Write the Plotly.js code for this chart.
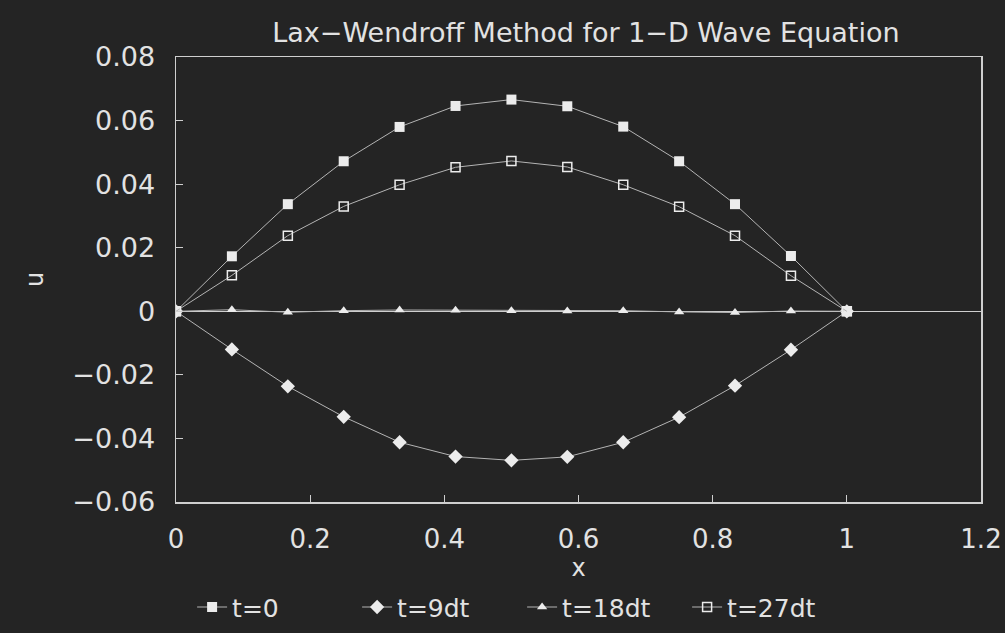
<!DOCTYPE html>
<html><head><meta charset="utf-8">
<script src="https://cdn.plot.ly/plotly-3.0.1.min.js"></script>
<style>html,body{margin:0;padding:0;background:#242424;}#chart{width:1005px;height:633px;}</style>
</head><body><div id="chart"></div>
<script>
const xValues = [0, 0.0833, 0.1667, 0.25, 0.3333, 0.4167, 0.5, 0.5833, 0.6667, 0.75, 0.8333, 0.9167, 1.0];
const seriesNames = ["t=0", "t=9dt", "t=18dt", "t=27dt"];
const uT0   = [0, 0.0173, 0.0337, 0.0472, 0.0580, 0.0646, 0.0666, 0.0645, 0.0581, 0.0472, 0.0337, 0.0174, 0];
const uT9   = [0, -0.0120, -0.0236, -0.0332, -0.0412, -0.0457, -0.0469, -0.0458, -0.0412, -0.0333, -0.0234, -0.0121, 0];
const uT18  = [0, 0.0005, -0.0003, 0.0002, 0.0004, 0.0003, 0.0002, 0.0001, 0.0002, -0.0002, -0.0004, 0.0001, 0];
const uT27  = [0, 0.0113, 0.0238, 0.0330, 0.0398, 0.0453, 0.0473, 0.0454, 0.0398, 0.0329, 0.0238, 0.0112, 0];
const xTicks = [0, 0.2, 0.4, 0.6, 0.8, 1, 1.2];
const xTickText = ["0", "0.2", "0.4", "0.6", "0.8", "1", "1.2"];
const yTicks = [-0.06, -0.04, -0.02, 0, 0.02, 0.04, 0.06, 0.08];
const yTickText = ["\u22120.06", "\u22120.04", "\u22120.02", "0", "0.02", "0.04", "0.06", "0.08"];

const fg = "#e2e2e2";
const lineCol = "#b4b4b4";
const font = "DejaVu Sans, sans-serif";

function tr(y, name, sym, size, extra) {
  return Object.assign({
    x: xValues, y: y, name: name, type: "scatter", mode: "lines+markers",
    line: {color: lineCol, width: 1},
    marker: {symbol: sym, size: size, color: "#ececec"}
  }, extra || {});
}
const data = [
  tr(uT0, seriesNames[0], "square", 10),
  tr(uT9, seriesNames[1], "diamond", 11),
  tr(uT18, seriesNames[2], "triangle-up", 9),
  tr(uT27, seriesNames[3], "square-open", 9, {marker: {symbol: "square-open", size: 9, color: "#ececec", line: {width: 1.5}}})
];
const layout = {
  width: 1005, height: 633,
  paper_bgcolor: "#242424", plot_bgcolor: "#242424",
  font: {family: font, color: fg, size: 22},
  margin: {l: 176, r: 24, t: 57, b: 131, autoexpand: false},
  title: {text: "Lax\u2212Wendroff Method for 1\u2212D Wave Equation", font: {family: font, size: 27, color: fg}, x: 0.583, xanchor: "center", y: 0.948, yanchor: "middle"},
  xaxis: {
    range: [0, 1.2], tickvals: xTicks, ticktext: xTickText, showgrid: false, zeroline: false,
    showline: true, linecolor: "#cfcfcf", linewidth: 1.5, mirror: true,
    ticks: "inside", ticklen: 7, tickcolor: "#cfcfcf",
    tickfont: {family: font, size: 26, color: fg}, ticklabelstandoff: 13,
    title: {text: "x", font: {family: font, size: 24, color: fg}, standoff: 3}
  },
  yaxis: {
    range: [-0.06, 0.08], tickvals: yTicks, ticktext: yTickText, showgrid: false,
    zeroline: true, zerolinecolor: "#cfcfcf", zerolinewidth: 1.5,
    showline: true, linecolor: "#cfcfcf", linewidth: 1.5, mirror: true,
    ticks: "inside", ticklen: 7, tickcolor: "#cfcfcf",
    tickfont: {family: font, size: 27, color: fg}, ticklabelstandoff: 14,
    title: {text: "u", font: {family: font, size: 24, color: fg}, standoff: 22}
  },
  showlegend: true,
  legend: {orientation: "h", x: 0.02, xanchor: "left", yref: "container", y: 0.077, yanchor: "top",
    font: {family: font, size: 25, color: fg}, bgcolor: "rgba(0,0,0,0)", entrywidth: 120, itemwidth: 30}
};
Plotly.newPlot("chart", data, layout, {displayModeBar: false, staticPlot: true});
</script></body></html>
